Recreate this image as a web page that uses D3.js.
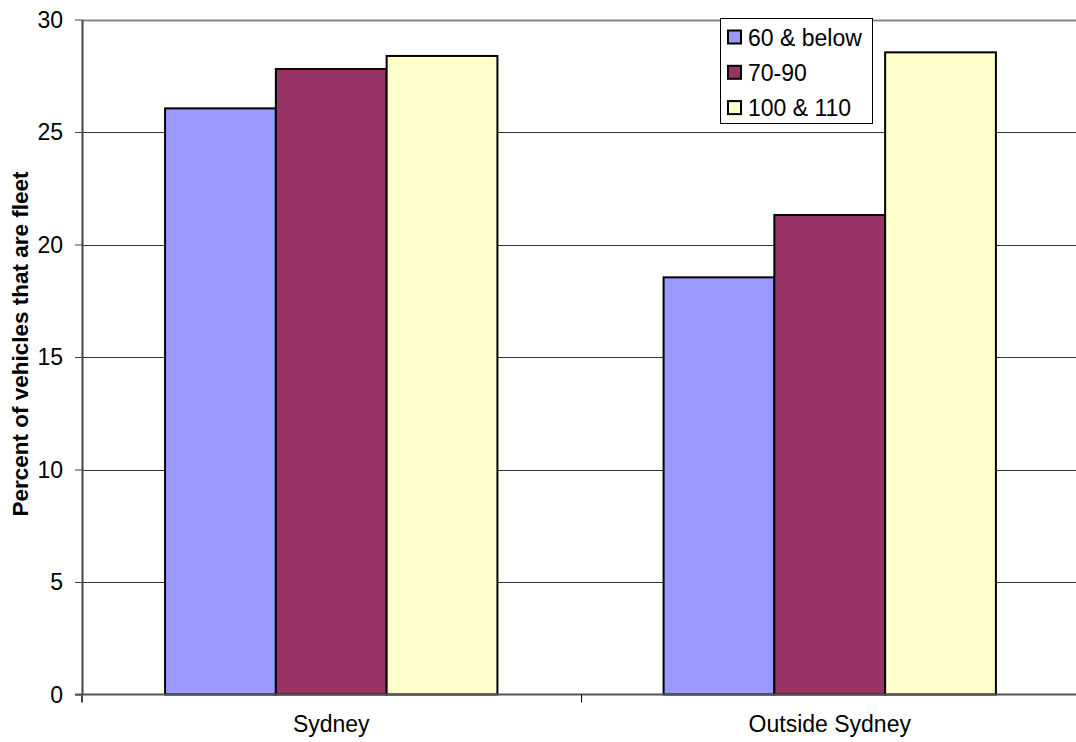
<!DOCTYPE html>
<html>
<head>
<meta charset="utf-8">
<script src="https://cdn.jsdelivr.net/npm/d3@7"></script>
<style>
  html, body { margin: 0; padding: 0; background: #fff; }
  svg { display: block; font-family: "Liberation Sans", Arial, sans-serif; }
</style>
</head>
<body>
<svg id="chart" width="1076" height="742"></svg>
<script>
// Fleet share of vehicles by region and speed zone
const regions = ["Sydney", "Outside Sydney"];
const speedZones = ["60 & below", "70-90", "100 & 110"];
const sydneyValues = [26.05, 27.8, 28.38];
const outsideValues = [18.54, 21.31, 28.54];
const zoneColors = ["#9999ff", "#993366", "#ffffcc"];
const yTicks = [0, 5, 10, 15, 20, 25, 30];

const seriesByRegion = [sydneyValues, outsideValues];

const svg = d3.select("#chart");
const margin = { left: 82, top: 19.5, right: -3, bottom: 47.5 };
const W = 1076, H = 742;
const plotW = W - margin.left - margin.right;
const plotH = H - margin.top - margin.bottom;
const FONT = "'Liberation Sans', Arial, sans-serif";

const x = d3.scaleBand().domain(regions).range([margin.left, margin.left + plotW]).paddingInner(0).paddingOuter(0);
const groupPad = 1.5 / 4.5; // gap of 1.5 bar widths per category band
const xInner = d3.scaleBand().domain(speedZones)
  .range([x.bandwidth() * groupPad / 2, x.bandwidth() * (1 - groupPad / 2)]);
const y = d3.scaleLinear().domain([0, 30]).range([margin.top + plotH, margin.top]);

// Gridlines
svg.append("g")
  .selectAll("line")
  .data(yTicks.filter(d => d > 0))
  .join("line")
  .attr("x1", margin.left).attr("x2", W)
  .attr("y1", d => Math.round(y(d)) + 0.5).attr("y2", d => Math.round(y(d)) + 0.5)
  .attr("stroke", d => d === 30 ? "#888" : "#333")
  .attr("stroke-width", d => d === 30 ? 2 : 1);

// Bars
const groups = svg.append("g")
  .selectAll("g")
  .data(regions)
  .join("g")
  .attr("transform", d => `translate(${x(d)},0)`);

groups.selectAll("rect")
  .data((r, i) => seriesByRegion[i].map((v, j) => ({ zone: speedZones[j], value: v, color: zoneColors[j] })))
  .join("rect")
  .attr("x", d => xInner(d.zone))
  .attr("width", xInner.bandwidth())
  .attr("y", d => y(d.value))
  .attr("height", d => y(0) - y(d.value))
  .attr("fill", d => d.color)
  .attr("stroke", "#000")
  .attr("stroke-width", 2);

// Y axis
const yAxis = d3.axisLeft(y).tickValues(yTicks).tickSize(7).tickPadding(12).tickSizeOuter(0);
const yg = svg.append("g").attr("transform", `translate(${margin.left},0)`).call(yAxis);
yg.attr("font-size", 23).attr("font-family", FONT);
yg.select(".domain").attr("stroke", "#444").attr("stroke-width", 2);
yg.selectAll(".tick line").attr("stroke", "#444");
yg.selectAll(".tick text").attr("fill", "#000").attr("dy", "0.34em");

// X axis line and category dividers
const xg = svg.append("g").attr("transform", `translate(0,${y(0)})`);
xg.append("line").attr("x1", margin.left - 7).attr("x2", W)
  .attr("y1", 0).attr("y2", 0).attr("stroke", "#555").attr("stroke-width", 2);
xg.selectAll(".divider")
  .data(regions.slice(1))
  .join("line")
  .attr("class", "divider")
  .attr("x1", d => Math.round(x(d)) + 0.5).attr("x2", d => Math.round(x(d)) + 0.5)
  .attr("y1", 0).attr("y2", 8).attr("stroke", "#000");
xg.append("line").attr("x1", margin.left).attr("x2", margin.left)
  .attr("y1", 0).attr("y2", 8).attr("stroke", "#444").attr("stroke-width", 2);
xg.selectAll(".cat")
  .data(regions)
  .join("text")
  .attr("class", "cat")
  .attr("x", d => x(d) + x.bandwidth() / 2)
  .attr("y", 37.5)
  .attr("text-anchor", "middle")
  .attr("font-size", 23)
  .text(d => d);

// Y axis title
svg.append("text")
  .attr("transform", `translate(28,${(y(0) + y(30)) / 2 - 13}) rotate(-90)`)
  .attr("text-anchor", "middle")
  .attr("font-size", 22.5)
  .attr("font-weight", "bold")
  .text("Percent of vehicles that are fleet");

// Legend
const legend = svg.append("g").attr("transform", "translate(720.5,18.5)");
legend.append("rect").attr("width", 152).attr("height", 105)
  .attr("fill", "#fff").attr("stroke", "#000").attr("stroke-width", 1);
const items = legend.selectAll(".item")
  .data(speedZones)
  .join("g")
  .attr("class", "item")
  .attr("transform", (d, i) => `translate(0,${18.5 + i * 35.3})`);
items.append("rect")
  .attr("x", 7.5).attr("y", -6.5).attr("width", 13).attr("height", 13)
  .attr("fill", (d, i) => zoneColors[i]).attr("stroke", "#000").attr("stroke-width", 2);
items.append("text")
  .attr("x", 27.5).attr("y", 8.5)
  .attr("font-size", 23)
  .text(d => d);
</script>
</body>
</html>
